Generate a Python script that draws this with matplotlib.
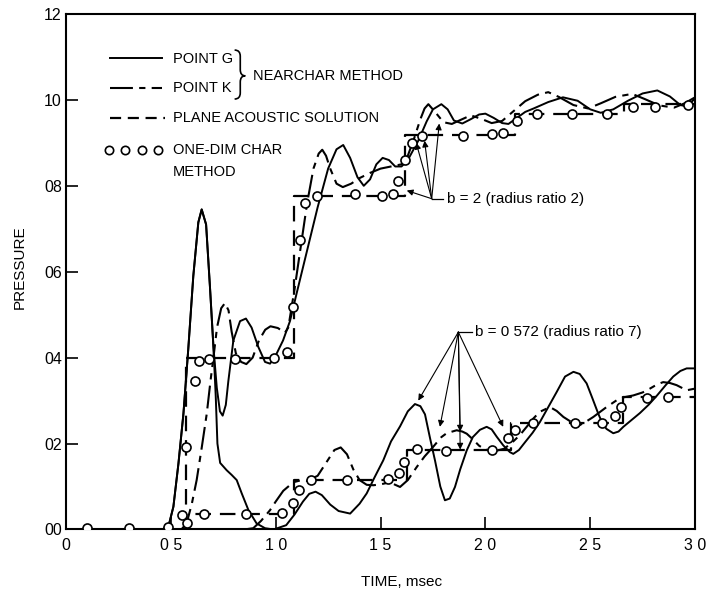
# Pressure history: NEARCHAR method vs plane acoustic / one-dim char solutions
import numpy as np
import matplotlib
matplotlib.use('Agg')
import matplotlib.pyplot as plt
from matplotlib.path import Path
from matplotlib.patches import PathPatch

plt.rcParams['font.family'] = ['Liberation Sans Narrow', 'Liberation Sans', 'DejaVu Sans']

### Data, time in msec
# b = 2 (radius ratio 2)
g_hi_t = [0.46, 0.49, 0.512, 0.536, 0.56, 0.583, 0.607, 0.631, 0.647, 0.668, 0.687, 0.703,
          0.719, 0.734, 0.747, 0.762, 0.774, 0.798, 0.83, 0.858, 0.885, 0.917, 0.949, 0.973,
          1.0, 1.035, 1.068, 1.10, 1.15, 1.20, 1.25, 1.29, 1.322, 1.355, 1.39, 1.42, 1.45,
          1.48, 1.51, 1.54, 1.57, 1.60, 1.63, 1.68, 1.72, 1.75, 1.79, 1.82, 1.85, 1.89, 1.93,
          1.97, 2.0, 2.04, 2.08, 2.11, 2.15, 2.19, 2.23, 2.30, 2.37, 2.44, 2.50, 2.55, 2.61,
          2.68, 2.75, 2.82, 2.88, 2.93, 2.96, 3.0]
g_hi_p = [0.0, 0.01, 0.053, 0.153, 0.27, 0.42, 0.59, 0.715, 0.745, 0.71, 0.56, 0.425,
          0.33, 0.275, 0.265, 0.29, 0.345, 0.44, 0.485, 0.491, 0.47, 0.425, 0.39, 0.386,
          0.405, 0.44, 0.485, 0.55, 0.65, 0.75, 0.84, 0.885, 0.895, 0.865, 0.82, 0.80, 0.815,
          0.85, 0.865, 0.86, 0.845, 0.845, 0.86, 0.905, 0.95, 0.978, 0.99, 0.978, 0.952, 0.945, 0.955,
          0.966, 0.968, 0.958, 0.946, 0.944, 0.958, 0.972, 0.98, 0.995, 1.006, 0.998, 0.978, 0.97, 0.978,
          0.998, 1.015, 1.022, 1.008, 0.988, 0.985, 1.003]

k_hi_t = [0.55, 0.575, 0.60, 0.623, 0.647, 0.671, 0.69, 0.703, 0.72, 0.74, 0.758, 0.775,
          0.79, 0.81, 0.835, 0.86, 0.89, 0.92, 0.95, 0.975, 1.01, 1.044, 1.06, 1.09, 1.12,
          1.15, 1.18, 1.205, 1.222, 1.24, 1.26, 1.29, 1.32, 1.36, 1.40, 1.45, 1.50, 1.55,
          1.60, 1.63, 1.66, 1.69, 1.71, 1.728, 1.76, 1.80, 1.84, 1.88, 1.93, 1.98, 2.03,
          2.08, 2.13, 2.19, 2.25, 2.30, 2.35, 2.42, 2.49, 2.55, 2.62, 2.70, 2.76, 2.83,
          2.90, 2.95, 3.0]
k_hi_p = [0.0, 0.014, 0.06, 0.115, 0.19, 0.269, 0.35, 0.40, 0.47, 0.515, 0.527, 0.51,
          0.46, 0.41, 0.39, 0.385, 0.40, 0.44, 0.465, 0.473, 0.469, 0.458, 0.47, 0.56, 0.66,
          0.76, 0.84, 0.875, 0.884, 0.87, 0.84, 0.805, 0.797, 0.805, 0.818, 0.83, 0.84, 0.845,
          0.85, 0.87, 0.91, 0.955, 0.98, 0.99, 0.972, 0.948, 0.944, 0.953, 0.964, 0.956, 0.946,
          0.951, 0.972, 0.997, 1.012, 1.018, 1.007, 0.988, 0.98, 0.992, 1.007, 1.014, 1.002, 0.987,
          0.982, 0.992, 1.006]

plane_hi_t = [0.57, 0.57, 1.085, 1.085, 1.617, 1.617, 2.14, 2.14, 2.66, 2.66, 3.0]
plane_hi_p = [0.0, 0.40, 0.40, 0.777, 0.777, 0.918, 0.918, 0.968, 0.968, 0.99, 0.99]

char_hi_t = [0.572, 0.615, 0.634, 0.683, 0.806, 0.992, 1.052, 1.081, 1.116, 1.14, 1.195,
             1.378, 1.505, 1.561, 1.585, 1.617, 1.648, 1.696, 1.895, 2.03, 2.085, 2.149,
             2.244, 2.411, 2.578, 2.705, 2.809, 2.968]
char_hi_p = [0.192, 0.346, 0.393, 0.396, 0.398, 0.40, 0.413, 0.518, 0.675, 0.76, 0.777,
             0.781, 0.777, 0.781, 0.812, 0.86, 0.90, 0.917, 0.917, 0.92, 0.923, 0.952,
             0.967, 0.967, 0.966, 0.983, 0.984, 0.987]

# b = 0.572 (radius ratio 7)
g_lo_t = [0.46, 0.49, 0.512, 0.536, 0.56, 0.583, 0.607, 0.631, 0.647, 0.668, 0.687, 0.703,
          0.714, 0.722, 0.735, 0.766, 0.79, 0.814, 0.838, 0.87, 0.909, 0.949, 0.99, 1.05,
          1.09, 1.13, 1.16, 1.19, 1.22, 1.26, 1.30, 1.355, 1.40, 1.434, 1.47, 1.513, 1.55,
          1.593, 1.63, 1.664, 1.69, 1.712, 1.735, 1.76, 1.785, 1.807, 1.83, 1.855, 1.88,
          1.911, 1.94, 1.974, 2.006, 2.03, 2.054, 2.085, 2.117, 2.133, 2.16, 2.189, 2.225,
          2.26, 2.30, 2.34, 2.38, 2.42, 2.45, 2.483, 2.51, 2.538, 2.56, 2.578, 2.61, 2.635,
          2.658, 2.70, 2.737, 2.78, 2.817, 2.86, 2.896, 2.93, 2.96, 3.0]
g_lo_p = [0.0, 0.01, 0.053, 0.153, 0.27, 0.42, 0.59, 0.715, 0.745, 0.71, 0.56, 0.425,
          0.31, 0.20, 0.155, 0.138, 0.127, 0.115, 0.084, 0.045, 0.014, 0.003, 0.0, 0.01,
          0.035, 0.065, 0.083, 0.088, 0.08, 0.058, 0.043, 0.037, 0.06, 0.084, 0.12, 0.161, 0.205,
          0.24, 0.275, 0.292, 0.287, 0.268, 0.215, 0.16, 0.10, 0.068, 0.072, 0.099, 0.14,
          0.184, 0.215, 0.232, 0.239, 0.233, 0.216, 0.196, 0.18, 0.176, 0.185, 0.203, 0.225,
          0.25, 0.285, 0.32, 0.356, 0.367, 0.362, 0.34, 0.306, 0.27, 0.245, 0.234, 0.224, 0.228,
          0.239, 0.256, 0.271, 0.291, 0.311, 0.336, 0.356, 0.369, 0.375, 0.375]

k_lo_t = [0.85, 0.893, 0.93, 0.973, 1.0, 1.036, 1.084, 1.116, 1.15, 1.20, 1.24, 1.28,
          1.31, 1.34, 1.37, 1.40, 1.434, 1.466, 1.50, 1.545, 1.57, 1.593, 1.63, 1.672,
          1.71, 1.752, 1.79, 1.815, 1.863, 1.89, 1.911, 1.94, 1.97, 2.0, 2.05, 2.09, 2.133,
          2.165, 2.197, 2.23, 2.26, 2.308, 2.34, 2.372, 2.42, 2.45, 2.48, 2.515, 2.578,
          2.642, 2.705, 2.75, 2.785, 2.82, 2.848, 2.88, 2.912, 2.96, 3.0]
k_lo_p = [0.0, 0.003, 0.02, 0.045, 0.065, 0.09, 0.11, 0.114, 0.113, 0.125, 0.155, 0.185,
          0.191, 0.175, 0.14, 0.115, 0.104, 0.103, 0.105, 0.11, 0.104, 0.099, 0.115, 0.145,
          0.17, 0.193, 0.215, 0.224, 0.231, 0.228, 0.223, 0.21, 0.195, 0.186, 0.183, 0.188, 0.205,
          0.22, 0.239, 0.259, 0.274, 0.285, 0.276, 0.262, 0.247, 0.243, 0.251, 0.262, 0.285,
          0.306, 0.312, 0.319, 0.328, 0.338, 0.343, 0.341, 0.336, 0.324, 0.328]

plane_lo_t = [0.57, 0.57, 1.085, 1.085, 1.625, 1.625, 2.12, 2.12, 2.655, 2.655, 3.0]
plane_lo_p = [0.0, 0.037, 0.037, 0.116, 0.116, 0.185, 0.185, 0.247, 0.247, 0.308, 0.308]

char_lo_t = [0.099, 0.30, 0.488, 0.552, 0.576, 0.656, 0.857, 1.028, 1.083, 1.113, 1.166,
             1.342, 1.537, 1.59, 1.61, 1.672, 1.812, 2.03, 2.11, 2.141, 2.225, 2.427,
             2.557, 2.618, 2.647, 2.769, 2.872]
char_lo_p = [0.004, 0.004, 0.005, 0.033, 0.016, 0.036, 0.036, 0.039, 0.062, 0.091, 0.115,
             0.115, 0.117, 0.131, 0.158, 0.187, 0.183, 0.185, 0.212, 0.231, 0.247, 0.247,
             0.248, 0.264, 0.285, 0.306, 0.308]

x_ticks = [0, 0.5, 1.0, 1.5, 2.0, 2.5, 3.0]
x_ticklabels = ['0', '0 5', '1 0', '1 5', '2 0', '2 5', '3 0']
y_ticks = [0, 0.2, 0.4, 0.6, 0.8, 1.0, 1.2]
y_ticklabels = ['00', '02', '04', '06', '08', '10', '12']

### Styles
solid = dict(color='black', lw=1.4, linestyle='-')
dashdot = dict(color='black', lw=1.5, linestyle=(0, (11, 3, 3, 3)))
dashed = dict(color='black', lw=1.6, linestyle=(0, (7, 4)))
circ = dict(linestyle='none', marker='o', ms=6.5, mfc='white', mec='black', mew=1.2, zorder=5)

fig = plt.figure(figsize=(7.07, 5.92), dpi=100)
ax = fig.add_axes([0.0934, 0.1056, 0.8897, 0.8708])

for t, p in [(g_hi_t, g_hi_p), (g_lo_t, g_lo_p)]:
    ax.plot(t, p, **solid)
for t, p in [(k_hi_t, k_hi_p), (k_lo_t, k_lo_p)]:
    ax.plot(t, p, **dashdot)
for t, p in [(plane_hi_t, plane_hi_p), (plane_lo_t, plane_lo_p)]:
    ax.plot(t, p, **dashed)
for t, p in [(char_hi_t, char_hi_p), (char_lo_t, char_lo_p)]:
    ax.plot(t, p, **circ)

ax.set_xlim(0, 3.0)
ax.set_ylim(0, 1.2)
ax.set_xticks(x_ticks)
ax.set_xticklabels(x_ticklabels)
ax.set_yticks(y_ticks)
ax.set_yticklabels(y_ticklabels)
ax.tick_params(direction='in', length=8.5, width=1.2, labelsize=11.5)
ax.tick_params(axis='x', pad=6)
ax.tick_params(axis='y', pad=3)
for s in ax.spines.values():
    s.set_linewidth(1.5)

ax.set_xlabel('TIME, msec', fontsize=11)
ax.xaxis.set_label_coords(0.533, -0.088)
ax.set_ylabel('PRESSURE', fontsize=11)
ax.yaxis.set_label_coords(-0.062, 0.509)

### Hand-drawn legend (axes fraction)
fs = 10.5
ax.plot([0.070, 0.152], [0.914, 0.914], transform=ax.transAxes, **solid)
ax.plot([0.070, 0.152], [0.856, 0.856], transform=ax.transAxes, **dashdot)
ax.plot([0.070, 0.157], [0.798, 0.798], transform=ax.transAxes, color='black', lw=1.6,
        linestyle=(0, (5, 3)))
ax.plot([0.0684, 0.0938, 0.1203, 0.1467], [0.736] * 4, transform=ax.transAxes,
        linestyle='none', marker='o', ms=6, mfc='white', mec='black', mew=1.2)
ax.text(0.1696, 0.913, 'POINT G', transform=ax.transAxes, fontsize=fs, va='center')
ax.text(0.1696, 0.856, 'POINT K', transform=ax.transAxes, fontsize=fs, va='center')
ax.text(0.1696, 0.798, 'PLANE ACOUSTIC SOLUTION', transform=ax.transAxes, fontsize=fs, va='center')
ax.text(0.1696, 0.736, 'ONE-DIM CHAR', transform=ax.transAxes, fontsize=fs, va='center')
ax.text(0.1696, 0.6935, 'METHOD', transform=ax.transAxes, fontsize=fs, va='center')
ax.text(0.2978, 0.880, 'NEARCHAR METHOD', transform=ax.transAxes, fontsize=fs, va='center')

# curly brace
x0, xm, x1 = 0.268, 0.277, 0.285
yt, ymid, yb, r = 0.93, 0.88, 0.835, 0.012
verts = [(x0, yt), (xm, yt), (xm, yt - r), (xm, ymid + r), (xm, ymid), (x1, ymid),
         (xm, ymid), (xm, ymid - r), (xm, yb + r), (xm, yb), (x0, yb)]
codes = [Path.MOVETO, Path.CURVE3, Path.CURVE3, Path.LINETO, Path.CURVE3, Path.CURVE3,
         Path.CURVE3, Path.CURVE3, Path.LINETO, Path.CURVE3, Path.CURVE3]
ax.add_patch(PathPatch(Path(verts, codes), transform=ax.transAxes, fill=False, lw=1.2,
                       edgecolor='black'))

### Annotations
afs = 11
arr = dict(arrowstyle='-|>', color='black', lw=0.8, mutation_scale=9, shrinkA=0, shrinkB=0)

o_hi = (1.744, 0.770)
ax.plot([o_hi[0], 1.80], [o_hi[1], o_hi[1]], color='black', lw=0.9)
ax.text(1.815, 0.770, 'b = 2 (radius ratio 2)', fontsize=afs, va='center')
for tgt in [(1.625, 0.789), (1.67, 0.90), (1.71, 0.905), (1.78, 0.945)]:
    ax.annotate('', xy=tgt, xytext=o_hi, arrowprops=arr)

o_lo = (1.871, 0.4595)
ax.plot([o_lo[0], 1.935], [o_lo[1], o_lo[1]], color='black', lw=0.9)
ax.text(1.95, 0.4595, 'b = 0 572 (radius ratio 7)', fontsize=afs, va='center')
for tgt in [(1.68, 0.30), (1.783, 0.239), (1.88, 0.228), (1.88, 0.186), (2.085, 0.239)]:
    ax.annotate('', xy=tgt, xytext=o_lo, arrowprops=arr)

fig.savefig('out.png', dpi=100)
